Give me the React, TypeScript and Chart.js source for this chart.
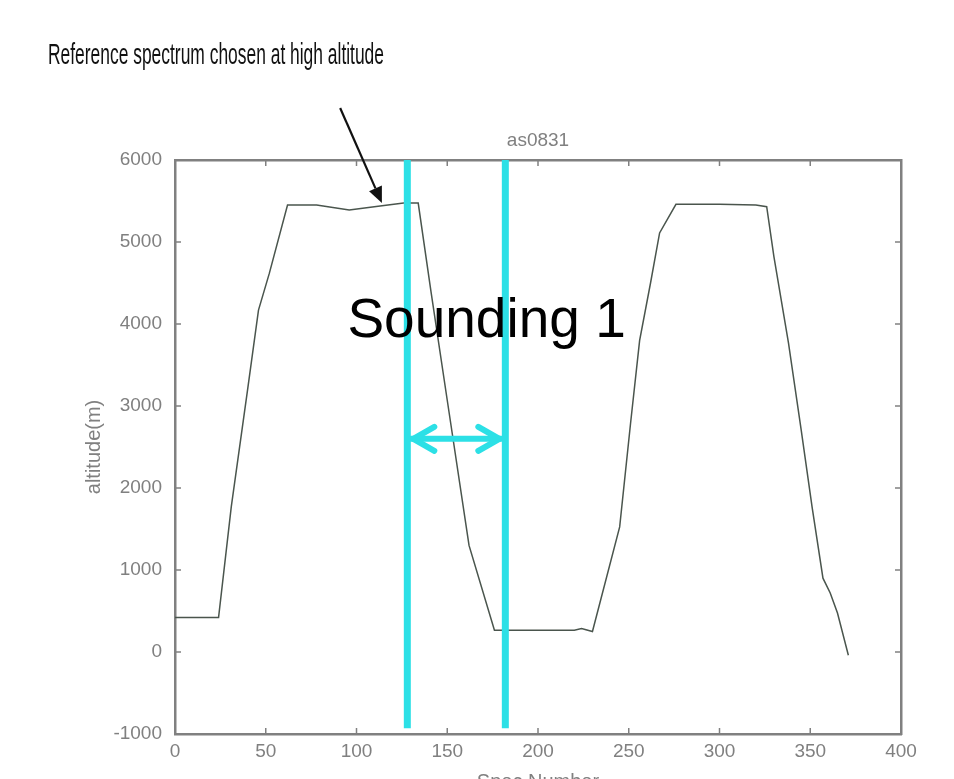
import React, { useEffect, useRef } from 'react';
import { Chart, registerables } from 'chart.js';

Chart.register(...registerables);

// ---- data ----
const specNumber = [0, 24, 31, 40, 46, 52, 62, 78, 96, 113, 126, 134, 141, 150, 162, 176, 220, 224, 230, 245, 251, 256, 262, 267, 276, 300, 320, 326, 330, 338, 345, 351, 357, 361, 365, 371];
const altitude = [420, 420, 1770, 3200, 4170, 4620, 5450, 5450, 5390, 5440, 5475, 5475, 4400, 3070, 1300, 265, 265, 285, 250, 1525, 2790, 3800, 4500, 5110, 5460, 5460, 5450, 5430, 4820, 3770, 2710, 1770, 900, 720, 475, -40];

const soundingBounds = [128, 182];
const soundingLineRange = [-930, 6000];
const soundingArrowAltitude = 2600;
const soundingLabel = 'Sounding 1';
const soundingLabelPos = [95, 3840];

const refArrowFrom = [91, 6634];
const refArrowTo = [114, 5476];

const xRange = [0, 400];
const xStep = 50;
const yRange = [-1000, 6000];
const yStep = 1000;

const mainTitle = 'Reference spectrum chosen at high altitude';
const topTitle = 'as0831';
const xTitle = 'Spec Number';
const yTitle = 'altitude(m)';

const CYAN = '#2CE0E6';
const GRAY = '#808080';
const FONT = 'Arial, "Liberation Sans", sans-serif';

const overlayPlugin = {
  id: 'overlay',
  afterDraw(chart: any) {
    const { ctx, chartArea, scales } = chart;
    const xs = scales.x;
    const ys = scales.y;
    ctx.save();

    // inward tick marks on all four sides
    ctx.strokeStyle = GRAY;
    ctx.lineWidth = 1.5;
    const seg = (a: number, b: number, c: number, d: number) => {
      ctx.beginPath();
      ctx.moveTo(a, b);
      ctx.lineTo(c, d);
      ctx.stroke();
    };
    xs.ticks.forEach((t: any) => {
      if (t.value <= xs.min || t.value >= xs.max) return;
      const px = xs.getPixelForValue(t.value);
      seg(px, chartArea.bottom, px, chartArea.bottom - 6);
      seg(px, chartArea.top, px, chartArea.top + 6);
    });
    ys.ticks.forEach((t: any) => {
      if (t.value <= ys.min || t.value >= ys.max) return;
      const py = ys.getPixelForValue(t.value);
      seg(chartArea.left, py, chartArea.left + 6, py);
      seg(chartArea.right, py, chartArea.right - 6, py);
    });

    // cyan double arrow between the sounding bounds
    const ay = ys.getPixelForValue(soundingArrowAltitude);
    const ax1 = xs.getPixelForValue(soundingBounds[0]) + 4;
    const ax2 = xs.getPixelForValue(soundingBounds[1]) - 4;
    ctx.strokeStyle = CYAN;
    ctx.lineWidth = 6;
    ctx.lineCap = 'round';
    ctx.lineJoin = 'round';
    seg(ax1, ay, ax2, ay);
    ctx.beginPath();
    ctx.moveTo(ax1 + 23, ay - 12);
    ctx.lineTo(ax1 + 2, ay);
    ctx.lineTo(ax1 + 23, ay + 12);
    ctx.stroke();
    ctx.beginPath();
    ctx.moveTo(ax2 - 23, ay - 12);
    ctx.lineTo(ax2 - 2, ay);
    ctx.lineTo(ax2 - 23, ay + 12);
    ctx.stroke();

    // "Sounding 1"
    ctx.fillStyle = '#000';
    ctx.font = `55px ${FONT}`;
    ctx.textAlign = 'left';
    ctx.textBaseline = 'alphabetic';
    ctx.fillText(soundingLabel, xs.getPixelForValue(soundingLabelPos[0]), ys.getPixelForValue(soundingLabelPos[1]));

    // black pointer arrow
    const fx = xs.getPixelForValue(refArrowFrom[0]);
    const fy = ys.getPixelForValue(refArrowFrom[1]);
    const tx = xs.getPixelForValue(refArrowTo[0]);
    const ty = ys.getPixelForValue(refArrowTo[1]);
    const ang = Math.atan2(ty - fy, tx - fx);
    const headLen = 16;
    const headW = 7;
    const bx = tx - headLen * Math.cos(ang);
    const by = ty - headLen * Math.sin(ang);
    ctx.strokeStyle = '#111';
    ctx.lineWidth = 2.2;
    ctx.lineCap = 'butt';
    seg(fx, fy, bx, by);
    ctx.fillStyle = '#111';
    ctx.beginPath();
    ctx.moveTo(tx, ty);
    ctx.lineTo(bx + headW * Math.sin(ang), by - headW * Math.cos(ang));
    ctx.lineTo(bx - headW * Math.sin(ang), by + headW * Math.cos(ang));
    ctx.closePath();
    ctx.fill();

    // main title (condensed)
    ctx.font = `30px ${FONT}`;
    ctx.fillStyle = '#111';
    const w = ctx.measureText(mainTitle).width;
    const targetW = 336;
    ctx.translate(48, 64);
    ctx.scale(targetW / w, 1);
    ctx.fillText(mainTitle, 0, 0);

    ctx.restore();
  },
};

export default function App() {
  const ref = useRef<HTMLCanvasElement | null>(null);

  useEffect(() => {
    if (!ref.current) return;
    const points = specNumber.map((s, i) => ({ x: s, y: altitude[i] }));
    const plain = (v: any) => String(v);
    const chart = new Chart(ref.current, {
      type: 'line',
      data: {
        datasets: [
          {
            label: 'bound1',
            data: [
              { x: soundingBounds[0], y: soundingLineRange[0] },
              { x: soundingBounds[0], y: soundingLineRange[1] },
            ],
            borderColor: CYAN,
            borderWidth: 7,
            pointRadius: 0,
            order: 0,
          },
          {
            label: 'bound2',
            data: [
              { x: soundingBounds[1], y: soundingLineRange[0] },
              { x: soundingBounds[1], y: soundingLineRange[1] },
            ],
            borderColor: CYAN,
            borderWidth: 7,
            pointRadius: 0,
            order: 0,
          },
          {
            label: 'altitude',
            data: points,
            borderColor: '#4a554d',
            borderWidth: 1.5,
            pointRadius: 0,
            tension: 0,
            order: 1,
          },
        ],
      },
      options: {
        animation: false,
        responsive: false,
        layout: { padding: 0 },
        plugins: {
          legend: { display: false },
          tooltip: { enabled: false },
          title: { display: false },
        },
        scales: {
          x: {
            type: 'linear',
            position: 'bottom',
            min: xRange[0],
            max: xRange[1],
            ticks: { stepSize: xStep, color: GRAY, font: { size: 19, family: FONT }, padding: 6, maxRotation: 0, callback: plain },
            grid: { display: false, drawTicks: false },
            border: { display: true, color: GRAY, width: 2.5 },
            title: {
              display: true,
              text: xTitle,
              color: GRAY,
              font: { size: 20, family: FONT },
              padding: { top: 0, bottom: -15 },
            },
            afterFit: (s: any) => {
              s.height = 45;
            },
          },
          x2: {
            type: 'linear',
            display: true,
            position: 'top',
            min: xRange[0],
            max: xRange[1],
            ticks: { display: false },
            grid: { display: false, drawTicks: false },
            border: { display: true, color: GRAY, width: 2.5 },
            title: {
              display: true,
              text: topTitle,
              color: GRAY,
              font: { size: 19, family: FONT },
              padding: { top: 129, bottom: 0 },
            },
            afterFit: (s: any) => {
              s.height = 160;
            },
          },
          y: {
            type: 'linear',
            position: 'left',
            min: yRange[0],
            max: yRange[1],
            ticks: { stepSize: yStep, color: GRAY, font: { size: 19, family: FONT }, padding: 13, callback: plain },
            grid: { display: false, drawTicks: false },
            border: { display: true, color: GRAY, width: 2.5 },
            title: {
              display: true,
              text: yTitle,
              color: GRAY,
              font: { size: 20, family: FONT },
              padding: { top: 82, bottom: 0 },
            },
            afterFit: (s: any) => {
              s.width = 175;
            },
          },
          y2: {
            type: 'linear',
            display: true,
            position: 'right',
            min: yRange[0],
            max: yRange[1],
            ticks: { display: false },
            grid: { display: false, drawTicks: false },
            border: { display: true, color: GRAY, width: 2.5 },
            afterFit: (s: any) => {
              s.width = 53;
            },
          },
        },
      },
      plugins: [overlayPlugin],
    });
    return () => chart.destroy();
  }, []);

  return (
    <div style={{ position: 'fixed', left: 0, top: 0, width: 954, height: 779, background: '#fff' }}>
      <canvas ref={ref} width={954} height={779} style={{ display: 'block' }} />
    </div>
  );
}
